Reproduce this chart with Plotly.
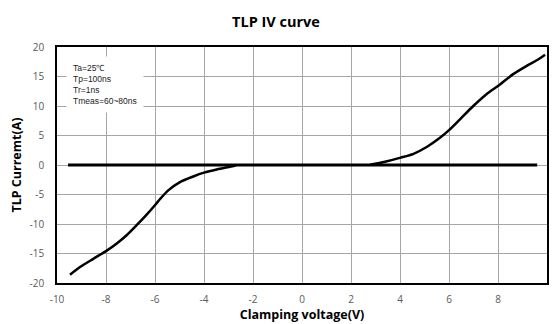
import plotly.graph_objects as go

# Data
pos_v = [2.78, 3.39, 4.03, 4.55, 5.09, 5.63, 6.0, 6.45, 6.99, 7.53, 8.0, 8.62, 9.17, 9.58, 9.92]
pos_i = [0.05, 0.56, 1.25, 1.9, 3.05, 4.6, 5.9, 7.75, 10.0, 12.0, 13.4, 15.4, 16.8, 17.75, 18.7]

neg_v = [-2.7, -2.8, -3.48, -4.0, -4.44, -4.98, -5.46, -5.8, -5.96, -6.34, -6.75, -7.16, -7.56, -8.0, -8.52, -9.06, -9.47]
neg_i = [-0.05, -0.17, -0.75, -1.3, -1.95, -2.9, -4.3, -5.8, -6.6, -8.4, -10.2, -11.9, -13.3, -14.6, -15.9, -17.3, -18.6]

leak_v = [-9.55, 9.6]
leak_i = [0.0, 0.0]

x_ticks = [-10, -8, -6, -4, -2, 0, 2, 4, 6, 8, 10]
y_ticks = [-20, -15, -10, -5, 0, 5, 10, 15, 20]

fig = go.Figure()
fig.add_trace(go.Scatter(x=leak_v, y=leak_i, mode="lines",
                         line=dict(color="black", width=3), showlegend=False))
fig.add_trace(go.Scatter(x=pos_v, y=pos_i, mode="lines",
                         line=dict(color="black", width=2.5, shape="spline", smoothing=0.8),
                         showlegend=False))
fig.add_trace(go.Scatter(x=neg_v, y=neg_i, mode="lines",
                         line=dict(color="black", width=2.5, shape="spline", smoothing=0.8),
                         showlegend=False))

fig.update_layout(
    width=552, height=324,
    margin=dict(l=57, r=5, t=47, b=41, autoexpand=False),
    paper_bgcolor="white", plot_bgcolor="white",
    title=dict(text="<b>TLP IV curve</b>", x=0.5, xanchor="center", y=0.932, yanchor="middle",
               font=dict(family="Open Sans", size=14.5, color="black")),
    font=dict(family="Open Sans"),
)
fig.update_xaxes(range=[-10, 10], tickvals=x_ticks, ticktext=[str(t) for t in x_ticks],
                 showgrid=True, gridcolor="#a6a6a6", gridwidth=1, zeroline=False,
                 showline=True, linecolor="black", linewidth=1.5, mirror=True,
                 ticks="outside", ticklen=6, tickcolor="rgba(0,0,0,0)",
                 tickfont=dict(size=10, color="#595959"), automargin=False,
                 title=dict(text="<b>Clamping voltage(V)</b>", font=dict(size=12.5, color="black"), standoff=4))
fig.update_yaxes(range=[-20, 20], tickvals=y_ticks, ticktext=[str(t) for t in y_ticks],
                 showgrid=True, gridcolor="#a6a6a6", gridwidth=1, zeroline=False,
                 showline=True, linecolor="black", linewidth=1.5, mirror=True,
                 ticks="outside", ticklen=9, tickcolor="rgba(0,0,0,0)",
                 tickfont=dict(size=10, color="#595959"), automargin=False,
                 title=dict(text="<b>TLP Curremt(A)</b>", font=dict(size=12.5, color="black"), standoff=5))

fig.add_annotation(
    xref="paper", yref="paper", x=0.018, y=0.962, xanchor="left", yanchor="top",
    text="Ta=25℃<br>Tp=100ns<br>Tr=1ns<br>Tmeas=60~80ns",
    align="left", showarrow=False, bgcolor="white", borderpad=6,
    font=dict(family="Liberation Sans", size=8.5, color="#222222"),
)

fig.write_html("out.html", config={"displayModeBar": False})
with open("out.html", "r", encoding="utf-8") as f:
    html = f.read()
html = html.replace("<head>", "<head><style>html,body{margin:0;padding:0;}</style>", 1)
with open("out.html", "w", encoding="utf-8") as f:
    f.write(html)
